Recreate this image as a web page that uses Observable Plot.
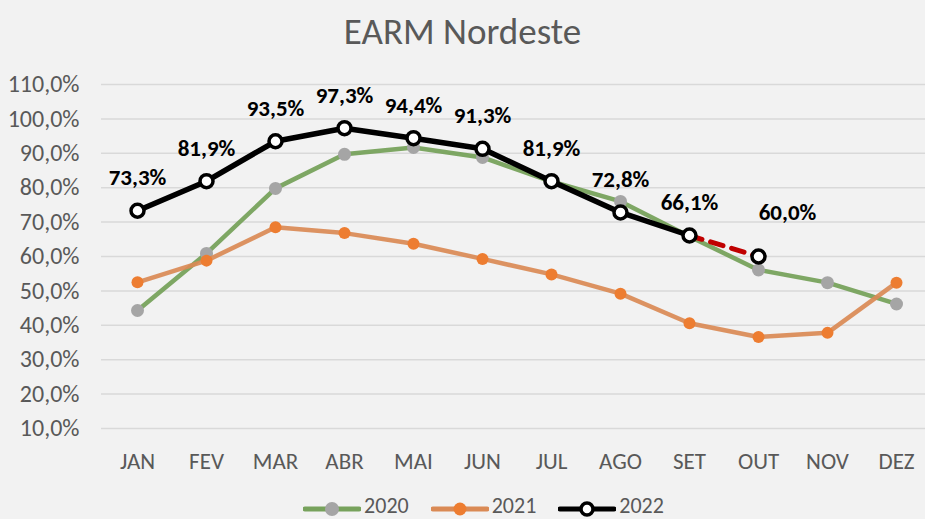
<!DOCTYPE html>
<html>
<head>
<meta charset="utf-8">
<script src="https://cdn.jsdelivr.net/npm/d3@7"></script>
<script src="https://cdn.jsdelivr.net/npm/@observablehq/plot@0.6"></script>
<style>
  html, body { margin: 0; padding: 0; background: #f2f2f2; }
  body { width: 925px; height: 519px; overflow: hidden; font-family: Carlito, "Open Sans", "Noto Sans", sans-serif; }
  #title { height: 60px; line-height: 64px; text-align: center; font-size: 37px; color: #595959; }
  #legend { height: 39px; display: flex; justify-content: center; align-items: center; padding-left: 42px; padding-top: 12px; box-sizing: border-box; font-size: 22px; color: #595959; }
  .item { display: flex; align-items: center; margin: 0 11px; }
  .item svg { margin-right: 3px; position: relative; top: 3px; }
</style>
</head>
<body>
<div id="title">EARM Nordeste</div>
<div id="chart"></div>
<div id="legend"></div>
<script>
const months = ["JAN","FEV","MAR","ABR","MAI","JUN","JUL","AGO","SET","OUT","NOV","DEZ"];
const y2020 = [44.3, 60.9, 79.8, 89.7, 91.7, 88.8, 81.8, 76.0, 65.8, 56.1, 52.4, 46.2];
const y2021 = [52.5, 58.8, 68.5, 66.8, 63.7, 59.3, 54.8, 49.2, 40.6, 36.6, 37.8, 52.4];
const y2022 = [73.3, 81.9, 93.5, 97.3, 94.4, 91.3, 81.9, 72.8, 66.1, 60.0];
const solid2022 = 9; // first 9 months solid, last segment dashed (SET -> OUT)
const yTicks = [10,20,30,40,50,60,70,80,90,100,110];

const fmt = v => v.toFixed(1).replace(".", ",") + "%";
const d2020 = months.map((m, i) => ({m, v: y2020[i]}));
const d2021 = months.map((m, i) => ({m, v: y2021[i]}));
const d2022 = y2022.map((v, i) => ({m: months[i], v}));
const dSolid = d2022.slice(0, solid2022);
const dDash = d2022.slice(solid2022 - 1);
const lastLabel = d2022.slice(-1);
const otherLabels = d2022.slice(0, -1);

const green = "#77a25c", gray = "#a5a5a5", orangeLine = "#da8a55", orange = "#ed7d31";
const font = "Carlito, 'Open Sans', 'Noto Sans', sans-serif";

const chart = Plot.plot({
  width: 925,
  height: 420,
  marginLeft: 101,
  marginRight: 0,
  marginTop: 24,
  marginBottom: 52,
  style: { background: "#f2f2f2", fontFamily: font },
  x: { type: "point", domain: months, range: [136, 897], padding: 0, label: null },
  y: { domain: [10, 110], label: null },
  marks: [
    Plot.ruleY(yTicks, { stroke: "#d9d9d9", strokeWidth: 1.5 }),
    Plot.axisY({ ticks: yTicks, tickSize: 0, tickPadding: 22, tickFormat: fmt, fontSize: 24, fill: "#595959", label: null }),
    Plot.axisX({ tickSize: 0, tickPadding: 24, fontSize: 23, fill: "#595959", label: null }),
    Plot.line(d2020, { x: "m", y: "v", stroke: green, strokeWidth: 4.5, strokeOpacity: 0.95 }),
    Plot.dot(d2020, { x: "m", y: "v", r: 6.5, fill: gray }),
    Plot.line(d2021, { x: "m", y: "v", stroke: orangeLine, strokeWidth: 4.5, strokeOpacity: 0.92 }),
    Plot.dot(d2021, { x: "m", y: "v", r: 6, fill: orange }),
    Plot.line(dDash, { x: "m", y: "v", stroke: "#c00000", strokeWidth: 5, strokeDasharray: "13,9" }),
    Plot.line(dSolid, { x: "m", y: "v", stroke: "#000", strokeWidth: 5.5 }),
    Plot.dot(d2022, { x: "m", y: "v", r: 6.5, fill: "#fff", stroke: "#000", strokeWidth: 3.5 }),
    Plot.text(otherLabels, { x: "m", y: "v", text: d => fmt(d.v), dy: -33, fontSize: 23, fontWeight: "bold", fill: "#000" }),
    Plot.text(lastLabel, { x: "m", y: "v", text: d => fmt(d.v), dy: -44, dx: 29, fontSize: 23, fontWeight: "bold", fill: "#000" })
  ]
});
document.getElementById("chart").appendChild(chart);

const legendItems = [
  { name: "2020", line: green, dotFill: gray, dotStroke: "none", sw: 0, r: 7 },
  { name: "2021", line: orangeLine, dotFill: orange, dotStroke: "none", sw: 0, r: 6.5 },
  { name: "2022", line: "#000", dotFill: "#fff", dotStroke: "#000", sw: 3.5, r: 6 }
];
const legend = document.getElementById("legend");
for (const it of legendItems) {
  const div = document.createElement("div");
  div.className = "item";
  div.innerHTML = `<svg width="58" height="18"><line x1="2" x2="56" y1="9" y2="9" stroke="${it.line}" stroke-width="5" stroke-linecap="round"/><circle cx="29" cy="9" r="${it.r}" fill="${it.dotFill}" stroke="${it.dotStroke}" stroke-width="${it.sw}"/></svg><span>${it.name}</span>`;
  legend.appendChild(div);
}
</script>
</body>
</html>
